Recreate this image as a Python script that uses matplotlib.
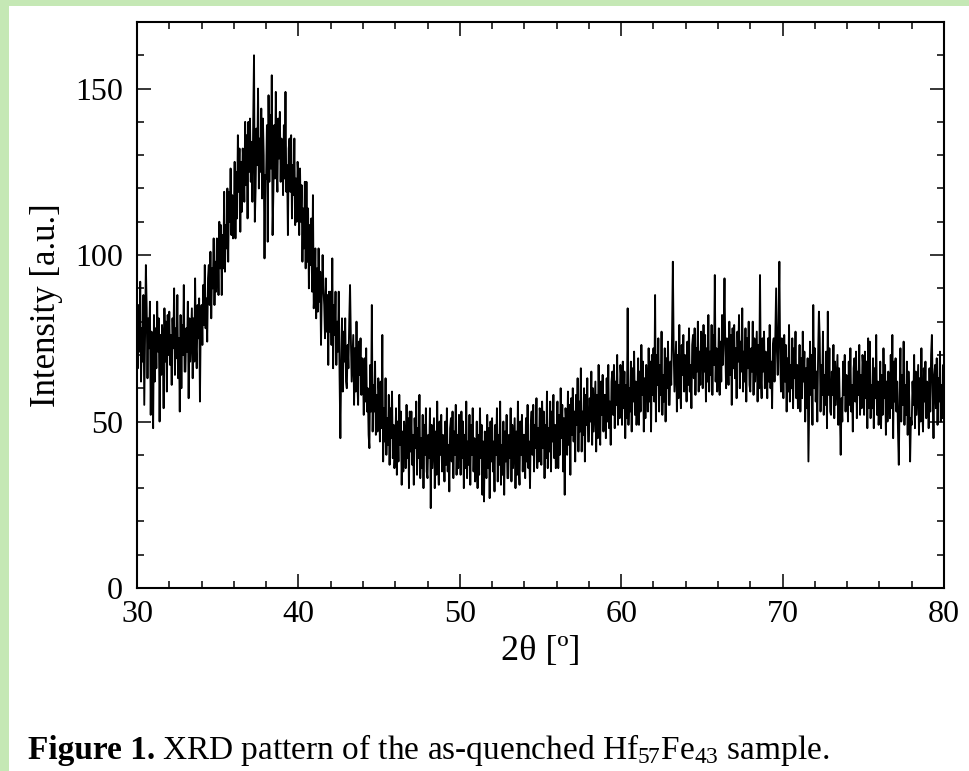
import matplotlib
matplotlib.use("Agg")
import matplotlib.pyplot as plt
from matplotlib.patches import Rectangle
import numpy as np

plt.rcParams['font.family'] = ['Liberation Serif', 'DejaVu Serif']
plt.rcParams['mathtext.fontset'] = 'custom'
plt.rcParams['mathtext.rm'] = 'Liberation Serif'
plt.rcParams['mathtext.it'] = 'Liberation Serif'

# 2theta from 30 to 80 in steps of 0.05 deg; intensities (one row per degree)
two_theta_start = 30.0
two_theta_step = 0.05
intensity = [
    80, 66, 85, 71, 92, 62, 78, 68, 88, 55, 76, 97, 84, 63, 81, 72, 86, 52, 77, 64,   # 30
    48, 82, 62, 78, 66, 86, 71, 81, 50, 76, 64, 79, 74, 54, 84, 68, 80, 59, 82, 70,   # 31
    83, 67, 76, 61, 81, 72, 90, 64, 78, 69, 88, 63, 75, 53, 82, 60, 79, 70, 91, 65,   # 32
    65, 78, 71, 86, 57, 81, 68, 76, 84, 63, 81, 68, 93, 73, 66, 85, 75, 87, 56, 81,   # 33
    85, 73, 91, 79, 97, 78, 87, 74, 93, 97, 85, 101, 81, 96, 90, 105, 85, 98, 89, 105,  # 34
    103, 88, 110, 96, 109, 88, 106, 96, 119, 95, 109, 102, 120, 98, 119, 110, 126, 106, 118, 105,  # 35
    111, 128, 105, 125, 111, 136, 119, 132, 107, 128, 113, 132, 127, 116, 140, 121, 136, 111, 140, 125,  # 36
    141, 122, 134, 116, 140, 160, 110, 120, 138, 127, 150, 120, 135, 125, 144, 117, 141, 130, 99, 124,  # 37
    123, 139, 104, 148, 122, 142, 126, 154, 106, 119, 139, 123, 149, 127, 119, 141, 129, 143, 122, 135,  # 38
    134, 118, 139, 123, 149, 119, 127, 106, 132, 135, 119, 136, 111, 127, 118, 135, 109, 123, 110, 128,  # 39
    123, 106, 126, 110, 121, 98, 114, 102, 122, 96, 122, 98, 114, 90, 109, 97, 111, 89, 118, 84,  # 40
    90, 102, 81, 96, 83, 102, 86, 95, 73, 89, 100, 90, 85, 75, 93, 77, 88, 67, 89, 77,   # 41
    89, 73, 99, 66, 85, 76, 89, 67, 80, 71, 89, 64, 45, 66, 81, 59, 77, 68, 81, 62,   # 42
    60, 73, 66, 80, 91, 75, 62, 69, 76, 55, 72, 59, 80, 62, 55, 74, 64, 75, 58, 69,   # 43
    65, 52, 69, 56, 72, 53, 60, 46, 42, 67, 53, 85, 47, 61, 53, 68, 46, 58, 47, 63,   # 44
    58, 44, 62, 48, 76, 38, 54, 44, 63, 40, 51, 43, 58, 37, 54, 45, 59, 39, 49, 36,   # 45
    41, 54, 34, 50, 38, 58, 43, 53, 31, 47, 35, 50, 45, 36, 55, 39, 51, 30, 53, 41,   # 46
    53, 37, 46, 31, 51, 42, 56, 34, 48, 39, 58, 33, 45, 36, 52, 30, 49, 40, 54, 35,   # 47
    33, 46, 39, 54, 24, 49, 36, 44, 51, 30, 47, 34, 56, 38, 31, 50, 40, 52, 35, 46,   # 48
    45, 32, 50, 37, 54, 35, 43, 29, 48, 51, 38, 53, 33, 47, 40, 55, 34, 46, 36, 52,   # 49
    48, 34, 53, 39, 50, 30, 46, 36, 56, 33, 44, 37, 52, 31, 49, 40, 54, 35, 45, 32,   # 50
    37, 50, 30, 46, 34, 54, 39, 49, 28, 44, 26, 47, 42, 33, 52, 36, 48, 27, 50, 38,   # 51
    51, 35, 44, 29, 49, 40, 54, 32, 46, 37, 56, 31, 43, 34, 50, 28, 47, 38, 52, 33,   # 52
    33, 46, 39, 54, 32, 49, 36, 44, 51, 30, 47, 34, 56, 38, 31, 50, 40, 52, 35, 46,   # 53
    46, 33, 51, 38, 55, 36, 44, 30, 49, 53, 40, 55, 35, 49, 42, 57, 36, 48, 38, 54,   # 54
    51, 37, 56, 42, 53, 33, 49, 39, 59, 36, 48, 41, 56, 35, 53, 44, 58, 39, 49, 36,   # 55
    43, 56, 36, 52, 40, 60, 45, 55, 35, 51, 28, 54, 49, 40, 59, 43, 55, 34, 57, 46,   # 56
    60, 44, 53, 38, 58, 49, 63, 41, 56, 47, 66, 41, 53, 46, 60, 38, 58, 49, 63, 44,   # 57
    44, 57, 50, 65, 43, 60, 47, 55, 62, 41, 58, 45, 67, 50, 43, 62, 52, 64, 47, 58,   # 58
    58, 45, 63, 50, 67, 48, 56, 43, 62, 65, 52, 67, 48, 62, 55, 70, 49, 61, 51, 67,   # 59
    63, 49, 68, 54, 65, 45, 61, 51, 84, 49, 60, 53, 68, 47, 66, 56, 71, 52, 62, 49,   # 60
    56, 69, 49, 65, 53, 73, 58, 68, 47, 63, 51, 67, 62, 53, 72, 56, 68, 47, 70, 58,   # 61
    72, 56, 88, 50, 70, 61, 75, 53, 67, 58, 77, 52, 64, 56, 72, 50, 69, 60, 74, 55,   # 62
    55, 68, 61, 76, 98, 72, 59, 67, 74, 53, 70, 57, 79, 61, 54, 73, 64, 76, 59, 70,   # 63
    69, 56, 74, 61, 78, 59, 67, 54, 73, 76, 63, 78, 58, 72, 65, 80, 59, 71, 61, 77,   # 64
    74, 60, 79, 65, 76, 56, 72, 62, 82, 59, 71, 64, 79, 58, 76, 67, 94, 62, 72, 59,   # 65
    65, 78, 58, 74, 62, 82, 67, 77, 93, 72, 60, 75, 70, 61, 80, 64, 76, 55, 78, 66,   # 66
    79, 63, 72, 57, 77, 68, 82, 60, 74, 65, 84, 59, 71, 62, 78, 56, 75, 66, 80, 61,   # 67
    59, 72, 65, 80, 58, 75, 62, 70, 77, 56, 73, 60, 94, 64, 57, 75, 65, 77, 60, 71,   # 68
    70, 57, 75, 62, 79, 60, 68, 54, 73, 75, 62, 77, 90, 71, 64, 79, 98, 69, 59, 75,   # 69
    71, 57, 76, 62, 73, 53, 69, 59, 79, 56, 67, 60, 75, 54, 72, 63, 77, 57, 67, 54,   # 70
    60, 73, 53, 69, 57, 77, 62, 71, 50, 66, 54, 69, 38, 55, 74, 58, 70, 49, 85, 60,   # 71
    72, 56, 65, 50, 70, 83, 75, 53, 67, 58, 77, 52, 64, 55, 71, 48, 83, 58, 72, 53,   # 72
    52, 65, 58, 73, 51, 68, 55, 63, 70, 49, 66, 53, 40, 57, 50, 68, 58, 70, 53, 64,   # 73
    63, 50, 68, 55, 72, 53, 61, 47, 66, 69, 56, 71, 51, 65, 58, 73, 52, 64, 54, 70,   # 74
    66, 52, 71, 57, 68, 48, 75, 54, 74, 51, 61, 54, 69, 48, 66, 57, 76, 52, 62, 49,   # 75
    55, 68, 48, 64, 52, 72, 57, 67, 46, 62, 50, 65, 60, 51, 70, 54, 76, 45, 68, 56,   # 76
    69, 53, 62, 47, 37, 58, 72, 50, 64, 55, 74, 49, 61, 52, 68, 46, 65, 56, 38, 51,   # 77
    49, 62, 55, 70, 48, 65, 52, 60, 67, 46, 63, 50, 72, 54, 47, 66, 56, 68, 51, 62,   # 78
    61, 48, 66, 53, 70, 76, 59, 45, 64, 67, 54, 69, 49, 63, 56, 71, 50, 61, 51, 67,   # 79
    58,                                                                               # 80
]
two_theta = two_theta_start + two_theta_step * np.arange(len(intensity))

x_ticks = [30, 40, 50, 60, 70, 80]
y_ticks = [0, 50, 100, 150]

W, H = 970, 771
fig = plt.figure(figsize=(W / 100, H / 100), dpi=100)
fig.patch.set_facecolor('white')
green = '#c5e8b5'
fig.patches.append(Rectangle((0, 1 - 6 / H), 1, 6 / H, transform=fig.transFigure,
                             facecolor=green, edgecolor='none', zorder=-5))
fig.patches.append(Rectangle((0, 0), 9 / W, 1, transform=fig.transFigure,
                             facecolor=green, edgecolor='none', zorder=-5))

ax = fig.add_axes([137 / W, 1 - 588 / H, (944 - 137) / W, (588 - 22) / H])
ax.plot(two_theta, intensity, color='black', lw=1.35)
ax.set_xlim(30, 80)
ax.set_ylim(0, 170)
ax.set_xticks(x_ticks)
ax.set_yticks(y_ticks)
ax.set_xticks(np.arange(30, 81, 2), minor=True)
ax.set_yticks(np.arange(0, 171, 10), minor=True)
ax.tick_params(which='both', direction='in', top=True, right=True, width=1.1,
               labelsize=23, colors='black')
ax.tick_params(which='major', length=10)
ax.tick_params(which='minor', length=5)
ax.tick_params(axis='x', pad=9)
ax.tick_params(axis='y', pad=10)
for s in ax.spines.values():
    s.set_linewidth(1.5)

ax.set_xlabel('2θ [º]', fontsize=26, labelpad=4)
ax.set_ylabel('Intensity [a.u.]', fontsize=25, labelpad=9)

t1 = fig.text(28 / W, 1 - 759 / H, 'Figure 1.', fontsize=24, fontweight='bold',
              va='baseline', ha='left')
fig.canvas.draw()
bb = t1.get_window_extent()
fig.text((bb.x1 + 7) / W, 1 - 759 / H,
         'XRD pattern of the as-quenched Hf$_{57}$Fe$_{43}$ sample.',
         fontsize=24, va='baseline', ha='left')

fig.savefig('out.png', dpi=100)
